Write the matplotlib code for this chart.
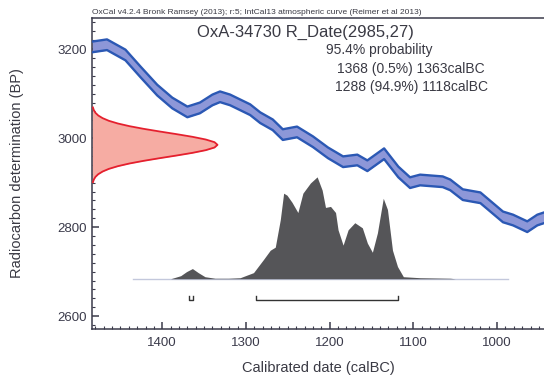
import matplotlib.pyplot as plt
from matplotlib.ticker import MultipleLocator

plt.rcParams['font.family'] = ['Liberation Sans', 'DejaVu Sans']

# calibration curve (IntCal13)
curve_year = [1484, 1466, 1444, 1426, 1406, 1388, 1370, 1355, 1340, 1331, 1319,
              1307, 1295, 1283, 1268, 1256, 1239, 1220, 1202, 1184, 1167, 1155,
              1135, 1118, 1104, 1092, 1065, 1056, 1041, 1020, 993, 981, 964, 952, 944]
curve_bp = [3205, 3210, 3187, 3149, 3108, 3079, 3059, 3068, 3086, 3093, 3086,
            3075, 3064, 3046, 3030, 3008, 3014, 2992, 2967, 2947, 2951, 2938,
            2965, 2924, 2900, 2906, 2902, 2895, 2873, 2866, 2823, 2816, 2801, 2816, 2821]
curve_err = 12

# radiocarbon measurement R_Date(2985,27)
rdate_bp = [2901, 2907, 2913, 2919, 2925, 2931, 2937, 2943, 2949, 2955, 2961, 2967,
            2973, 2979, 2985, 2991, 2997, 3003, 3009, 3015, 3021, 3027, 3033, 3039,
            3045, 3051, 3057, 3063, 3069]
rdate_prob = [0.008, 0.015, 0.028, 0.05, 0.085, 0.135, 0.206, 0.298, 0.411, 0.539,
              0.674, 0.801, 0.906, 0.976, 1.0, 0.976, 0.906, 0.801, 0.674, 0.539,
              0.411, 0.298, 0.206, 0.135, 0.085, 0.05, 0.028, 0.015, 0.008]

# calibrated distribution
post_year = [1390, 1378, 1371, 1364, 1357, 1349, 1337, 1321, 1307, 1291, 1279, 1271,
             1265, 1259, 1255, 1251, 1245, 1238, 1232, 1223, 1215, 1209, 1205, 1199,
             1193, 1190, 1184, 1178, 1170, 1161, 1155, 1149, 1143, 1136, 1131, 1125,
             1119, 1112, 1092, 1056, 1050]
post_prob = [0, 0.03, 0.07, 0.10, 0.06, 0.02, 0.005, 0.005, 0.01, 0.06, 0.19, 0.28,
             0.31, 0.58, 0.84, 0.82, 0.75, 0.65, 0.84, 0.94, 1.0, 0.87, 0.70, 0.71,
             0.65, 0.48, 0.33, 0.48, 0.55, 0.50, 0.35, 0.26, 0.45, 0.79, 0.68, 0.28,
             0.12, 0.02, 0.01, 0.005, 0]

# 95.4% ranges
ranges = [(1368, 1363), (1288, 1118)]
range_text = ['1368 (0.5%) 1363calBC', '1288 (94.9%) 1118calBC']

fig = plt.figure(figsize=(5.44, 3.82), dpi=100)
ax = fig.add_axes([0.169, 0.1387, 0.831, 0.8129])
x0, x1 = 1484, 944
y0, y1 = 2571, 3269
ax.set_xlim(x0, x1)
ax.set_ylim(y0, y1)

# calibration band
lo = [b - curve_err for b in curve_bp]
hi = [b + curve_err for b in curve_bp]
ax.fill_between(curve_year, lo, hi, color='#8d97d8', lw=0, zorder=2)
ax.plot(curve_year, lo, color='#2b58b4', lw=1.7, zorder=3)
ax.plot(curve_year, hi, color='#2b58b4', lw=1.7, zorder=3)

# measurement on the y axis
rwidth = 150
rx = [x0 - rwidth * p for p in rdate_prob]
ax.fill_betweenx(rdate_bp, x0, rx, color='#f6aca3', lw=0, zorder=2)
ax.plot(rx, rdate_bp, color='#e5202e', lw=1.3, zorder=3)

# posterior
base = 2684
pheight = 229
ax.plot([1435, 987], [base, base], color='#c3c8dc', lw=1.0, zorder=1)
ax.fill_between(post_year, base, [base + pheight * p for p in post_prob],
                color='#555558', lw=0, zorder=2)

# range brackets
ybar = 2637
for a, b in ranges:
    ax.plot([a, a, b, b], [ybar + 9, ybar, ybar, ybar + 9], color='#333333', lw=1.0)

# axes styling
ax.spines['right'].set_visible(False)
for s in ['left', 'bottom', 'top']:
    ax.spines[s].set_color('#3a3a4a')
    ax.spines[s].set_linewidth(1.1)
ax.xaxis.set_major_locator(MultipleLocator(100))
ax.xaxis.set_minor_locator(MultipleLocator(10))
ax.yaxis.set_major_locator(MultipleLocator(200))
ax.yaxis.set_minor_locator(MultipleLocator(20))
ax.tick_params(which='both', direction='in', colors='#3a3a4a', labelsize=9.5)
ax.tick_params(which='major', length=5, width=1.1)
ax.tick_params(which='minor', length=2.5, width=0.8)
ax.tick_params(axis='x', pad=6)

# texts
tc = '#3a3a44'
fig.text(0.169, 0.966, 'OxCal v4.2.4 Bronk Ramsey (2013); r:5; IntCal13 atmospheric curve (Reimer et al 2013)',
         fontsize=6, color=tc, va='center')
fig.text(0.561, 0.914, 'OxA-34730 R_Date(2985,27)', fontsize=12, color=tc, ha='center', va='center')
fig.text(0.599, 0.869, '95.4% probability', fontsize=10, color=tc, va='center')
fig.text(0.619, 0.819, range_text[0], fontsize=10, color=tc, va='center')
fig.text(0.616, 0.772, range_text[1], fontsize=10, color=tc, va='center')
fig.text(0.031, 0.546, 'Radiocarbon determination (BP)', fontsize=10.5, color=tc,
         rotation=90, ha='center', va='center')
fig.text(0.586, 0.037, 'Calibrated date (calBC)', fontsize=10.5, color=tc, ha='center', va='center')

fig.savefig('out.png', dpi=100)
